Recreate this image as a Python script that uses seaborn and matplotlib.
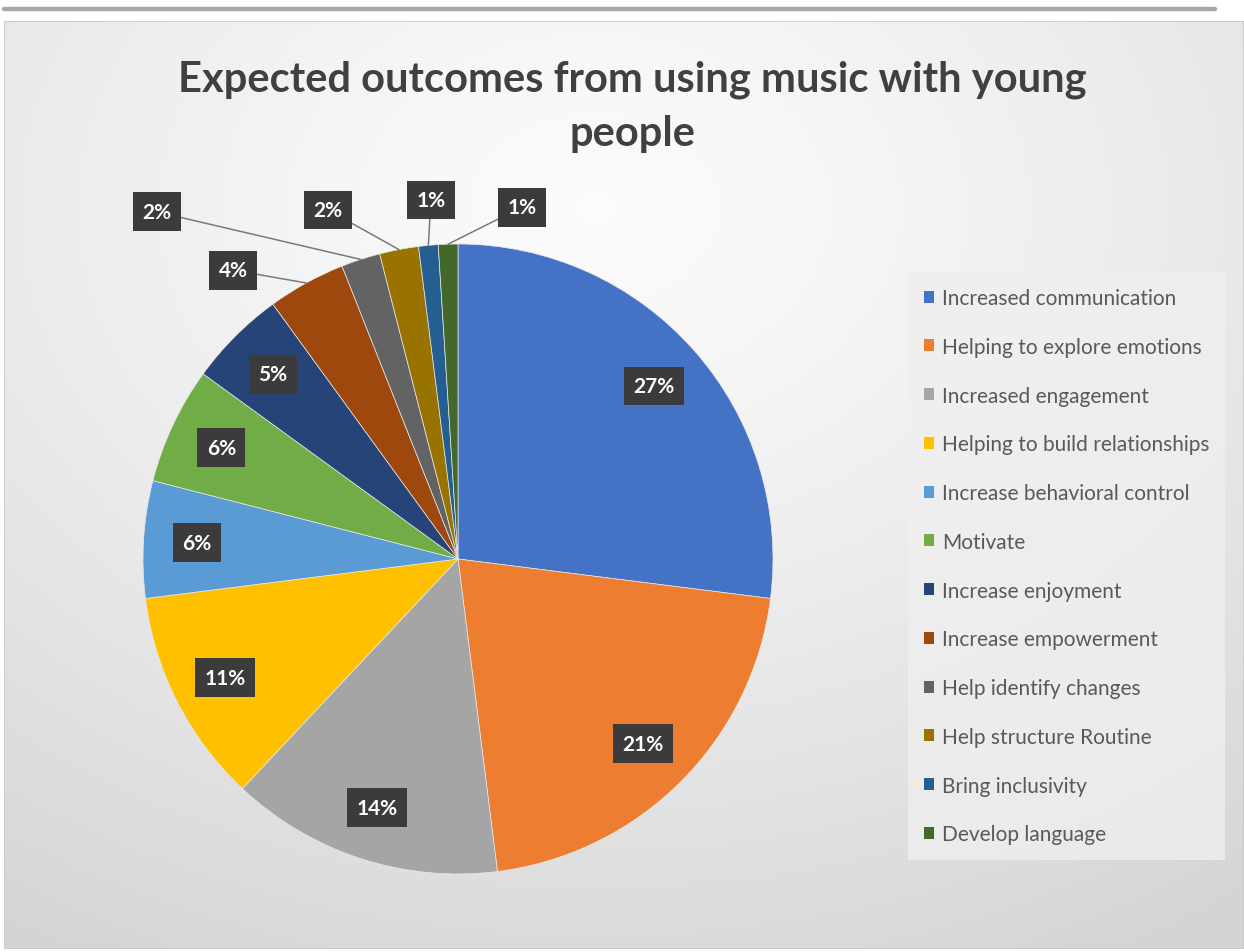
import numpy as np
import matplotlib
matplotlib.use("Agg")
import matplotlib.pyplot as plt
import seaborn as sns
from matplotlib.patches import Patch, Rectangle
from matplotlib.lines import Line2D

sns.set_style("white")
plt.rcParams['font.family'] = ['Lato', 'DejaVu Sans']

# ---------------- data ----------------
categories = [
    "Increased communication",
    "Helping to explore emotions",
    "Increased engagement",
    "Helping to build relationships",
    "Increase behavioral control",
    "Motivate",
    "Increase enjoyment",
    "Increase empowerment",
    "Help identify changes",
    "Help structure Routine",
    "Bring inclusivity",
    "Develop language",
]
values = [27, 21, 14, 11, 6, 6, 5, 4, 2, 2, 1, 1]
colors = ["#4472C4", "#ED7D31", "#A5A5A5", "#FFC000", "#5B9BD5", "#70AD47",
          "#264478", "#9E480E", "#636363", "#997300", "#255E91", "#43682B"]
title = "Expected outcomes from using music with young\npeople"

# layout for labels placed outside the pie (index -> (x, y) in pie units)
outside_pos = {7: (-0.714, 0.917), 8: (-0.956, 1.102), 9: (-0.413, 1.108),
               10: (-0.086, 1.140), 11: (0.203, 1.117)}

W, H = 1244, 953
fig = plt.figure(figsize=(W / 100, H / 100), dpi=100)
fig.patch.set_facecolor("white")

# ---------------- background ----------------
bg = fig.add_axes([4 / W, 3 / H, 1240 / W, (950 - 22) / H])
bg.set_axis_off()
yy, xx = np.mgrid[0:300, 0:400]
cx, cy = 190, 60
d = np.sqrt(((xx - cx) / 400) ** 2 + ((yy - cy) / 300) ** 2)
shade = 0.985 - 0.15 * np.clip(d / 0.9, 0, 1) ** 1.3
img = np.dstack([shade, shade, shade])
bg.imshow(img, aspect="auto", extent=[0, 1, 0, 1], origin="upper")
bg.add_patch(Rectangle((0, 0), 1, 1, transform=bg.transAxes, fill=False,
                       edgecolor="#c8c8c8", lw=1.2))
bg.set_xlim(0, 1)
bg.set_ylim(0, 1)

# top grey rule
fig.add_artist(Line2D([4 / W, 1215 / W], [1 - 10 / H, 1 - 10 / H],
                      color="#a6a6a6", lw=3.2, transform=fig.transFigure))

# ---------------- pie ----------------
cxp, cyp, R = 458, 560, 315
ax = fig.add_axes([(cxp - R) / W, (H - cyp - R) / H, 2 * R / W, 2 * R / H])
wedges, _ = ax.pie(values, colors=colors, startangle=90, counterclock=False,
                   radius=1.0, wedgeprops=dict(linewidth=0.5, edgecolor="#e8e8e8"))
ax.set_xlim(-1, 1)
ax.set_ylim(-1, 1)
ax.set_axis_off()

box = dict(boxstyle="square,pad=0.45", facecolor="#3b3b3b", edgecolor="none")
total = float(sum(values))
for i, (w, v) in enumerate(zip(wedges, values)):
    mid = np.deg2rad((w.theta1 + w.theta2) / 2)
    pct = f"{round(100 * v / total)}%"
    if i in outside_pos:
        ex, ey = np.cos(mid), np.sin(mid)
        tx, ty = outside_pos[i]
        ax.annotate(pct, xy=(ex, ey), xytext=(tx, ty), ha="center", va="center",
                    color="white", fontsize=15, fontweight="bold", bbox=box,
                    annotation_clip=False,
                    arrowprops=dict(arrowstyle="-", color="#7a7a7a", lw=1.1,
                                    shrinkA=0, shrinkB=0))
    else:
        r = 0.83
        ax.text(r * np.cos(mid), r * np.sin(mid), pct, ha="center", va="center",
                color="white", fontsize=15, fontweight="bold", bbox=box)

# ---------------- title ----------------
fig.text(632 / W, 1 - 107 / H, title, ha="center", va="center", fontsize=30,
         fontweight="bold", color="#404040", linespacing=1.5)

# ---------------- legend ----------------
handles = [Patch(facecolor=c, edgecolor="none") for c in colors]
leg = fig.legend(handles, categories, loc="upper left",
                 bbox_to_anchor=(898 / W, 1 - 263 / H), frameon=True,
                 fontsize=15, labelspacing=1.38, handlelength=0.5,
                 handleheight=0.5, handletextpad=0.35, borderpad=0.75,
                 fancybox=False)
leg.get_frame().set_facecolor("#efefef")
leg.get_frame().set_edgecolor("none")
for t in leg.get_texts():
    t.set_color("#595959")

fig.savefig("out.png", dpi=100)
